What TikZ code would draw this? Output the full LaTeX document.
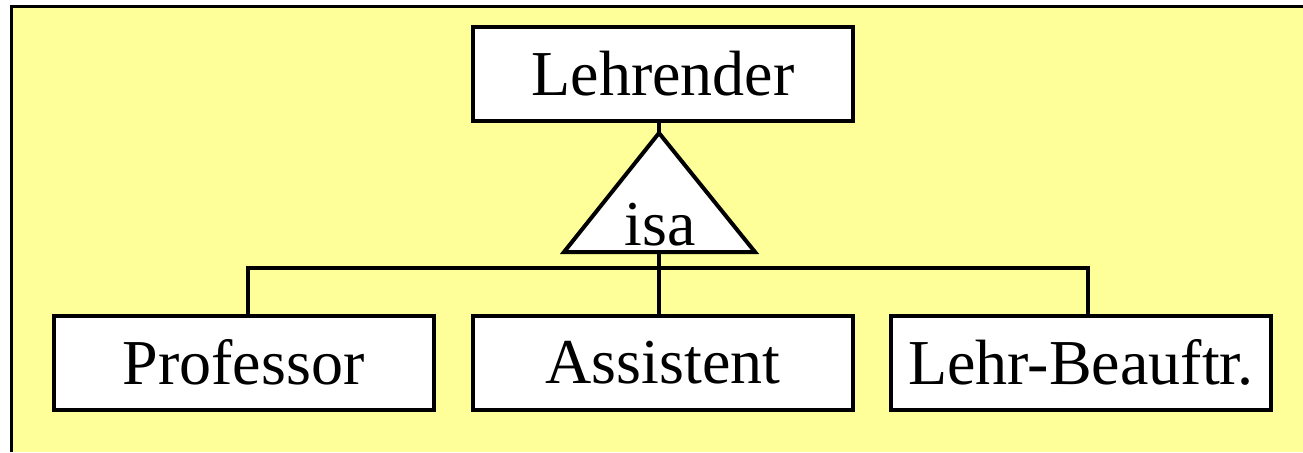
\documentclass[tikz,border=0pt]{standalone}
\usepackage{fontspec}
\setmainfont{Liberation Serif}
\definecolor{bgyellow}{HTML}{FFFF99}
\tikzset{
    entity/.style={draw, line width=2pt, fill=white, minimum width=190pt,
        minimum height=47pt, inner sep=0pt,
        font=\fontsize{32}{36}\selectfont},
    link/.style={line width=2pt}
}
\begin{document}
\begin{tikzpicture}[x=0.5pt, y=-0.5pt]
            \useasboundingbox (0,0) rectangle (1303,452);
            \fill[bgyellow] (11,6) rectangle (1303,452);
            \draw[line width=1.5pt] (11,452) -- (11,6) -- (1303,6);

            \node[entity] (Lehrender) at (663,74) {Lehrender};
            \node[entity] (Professor) at (243.5,362.5) {Professor};
            \node[entity] (Assistent) at (663,362.5) {Assistent};
            \node[entity] (Lehrbeauftr) at (1081,362.5) {Lehr-Beauftr.};

            \coordinate (isa top) at (659,133);
            \coordinate (isa bottom) at (659,252);
            \draw[link, fill=white, line join=miter] (isa top) -- (755,252) -- (564,252) -- cycle;
            \node[anchor=base, inner sep=0pt, font=\fontsize{32}{36}\selectfont] (isa) at (660,245) {isa};

            \coordinate (bar left) at (248,268);
            \coordinate (bar right) at (1088,268);

            \draw[link] (Lehrender.south -| isa top) -- (isa top);
            \draw[link] (isa bottom) -- (Assistent.north -| isa bottom);
            \draw[link] (Professor.north -| bar left) -- (bar left) -- (bar right)
                -- (Lehrbeauftr.north -| bar right);
        \end{tikzpicture}
\end{document}
